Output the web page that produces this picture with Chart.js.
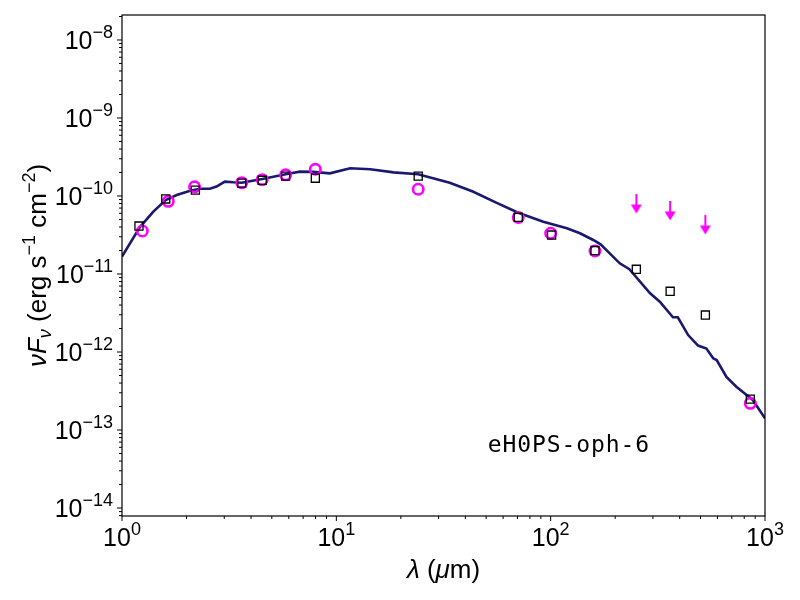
<!DOCTYPE html>
<html>
<head>
<meta charset="utf-8">
<script src="https://cdn.jsdelivr.net/npm/chart.js@4/dist/chart.umd.min.js"></script>
<style>html,body{margin:0;padding:0;background:#fff;overflow:hidden}canvas{display:block}</style>
</head>
<body>
<canvas id="c" width="800" height="600"></canvas>
<script>
// ---- data (wavelength in micron, nuFnu in erg s^-1 cm^-2) ----
const modelWave = [1.0, 1.21, 1.40, 1.60, 1.80, 2.08, 2.31, 2.57, 2.76, 3.02, 3.30, 3.62, 4.51, 5.80, 6.76, 7.82, 9.33, 11.6, 14.4, 18.5, 24.1, 33.8, 43.3, 55.7, 70.6, 92.4, 119, 137, 158, 171, 210, 233, 291, 323, 372, 392, 438, 487, 533, 573, 595, 661, 735, 877, 1000];
const modelFlux = [1.67e-11, 3.97e-11, 6.3e-11, 8.88e-11, 1.03e-10, 1.17e-10, 1.24e-10, 1.24e-10, 1.32e-10, 1.53e-10, 1.50e-10, 1.48e-10, 1.65e-10, 1.90e-10, 2.05e-10, 2.04e-10, 1.95e-10, 2.27e-10, 2.20e-10, 2.01e-10, 1.90e-10, 1.48e-10, 1.14e-10, 8.22e-11, 6.1e-11, 4.69e-11, 3.86e-11, 3.33e-11, 2.73e-11, 2.40e-11, 1.37e-11, 1.15e-11, 5.65e-12, 4.42e-12, 2.79e-12, 2.79e-12, 1.65e-12, 1.21e-12, 1.11e-12, 8.3e-13, 7.9e-13, 4.8e-13, 3.59e-13, 2.43e-13, 1.41e-13];

const sqWave = [1.20, 1.60, 2.20, 3.62, 4.51, 5.80, 7.98, 24.1, 70.6, 101, 161, 251, 361, 527, 854];
const sqFlux = [4.12e-11, 9.16e-11, 1.19e-10, 1.46e-10, 1.59e-10, 1.80e-10, 1.69e-10, 1.80e-10, 5.33e-11, 3.16e-11, 2.0e-11, 1.15e-11, 6.0e-12, 2.98e-12, 2.49e-13];

const circWave = [1.244, 1.644, 2.18, 3.62, 4.51, 5.80, 7.98, 24.1, 70.6, 100, 161, 854];
const circFlux = [3.56e-11, 8.55e-11, 1.31e-10, 1.48e-10, 1.62e-10, 1.87e-10, 2.20e-10, 1.22e-10, 5.3e-11, 3.33e-11, 1.97e-11, 2.2e-13];

const limWave = [251, 361, 527];
const limFlux = [1.06e-10, 8.63e-11, 5.7e-11];

const xTickExponents = [0, 1, 2, 3];
const yTickExponents = [-14, -13, -12, -11, -10, -9, -8];
const sourceName = 'eH0PS-oph-6';

// ---- helpers ----
const pts = (xs, ys) => xs.map((x, i) => ({x, y: ys[i]}));
const toSup = s => String(s).replace('-', '\u2212');

function makeArrow() {
  const c = document.createElement('canvas');
  c.width = 12; c.height = 40;
  const g = c.getContext('2d');
  g.fillStyle = '#ff00ff';
  g.fillRect(5, 20, 2, 12);
  g.beginPath();
  g.moveTo(0.5, 30.5); g.lineTo(11.5, 30.5); g.lineTo(6, 39.5); g.closePath();
  g.fill();
  return c;
}

const BASE = '"Liberation Sans", Arial, Helvetica, sans-serif';
function fontFor(p, size) {
  const s = p.sup || p.sub ? Math.round(size * 0.7) : size;
  return (p.it ? 'italic ' : '') + s + 'px ' + BASE;
}
function drawRich(ctx, parts, x, y, size, align) {
  let w = 0;
  parts.forEach(p => { ctx.font = fontFor(p, size); p.w = ctx.measureText(p.t).width; w += p.w; });
  let cx = align === 'center' ? x - w / 2 : align === 'right' ? x - w : x;
  parts.forEach(p => {
    ctx.font = fontFor(p, size);
    let dy = 0;
    if (p.sup) dy = -size * 0.43;
    if (p.sub) dy = size * 0.2;
    ctx.fillText(p.t, cx, y + dy);
    cx += p.w;
  });
}

const decor = {
  id: 'decor',
  afterDraw(chart) {
    const {ctx, chartArea: a, scales: {x, y}} = chart;
    ctx.save();
    ctx.fillStyle = '#000';
    ctx.strokeStyle = '#000';
    ctx.textBaseline = 'alphabetic';
    ctx.textAlign = 'left';
    // frame
    ctx.lineWidth = 1.2;
    ctx.strokeRect(a.left, a.top, a.right - a.left, a.bottom - a.top);
    // ticks
    ctx.lineWidth = 1;
    const tickSet = (scale, cb) => {
      const lo = Math.floor(Math.log10(scale.min)), hi = Math.ceil(Math.log10(scale.max));
      for (let e = lo; e <= hi; e++) for (let k = 1; k <= 9; k++) {
        const v = k * Math.pow(10, e);
        if (v < scale.min * 0.9999 || v > scale.max * 1.0001) continue;
        cb(scale.getPixelForValue(v), k === 1);
      }
    };
    ctx.beginPath();
    tickSet(x, (px, major) => { ctx.moveTo(px, a.bottom); ctx.lineTo(px, a.bottom + (major ? 5 : 3)); });
    tickSet(y, (py, major) => { ctx.moveTo(a.left, py); ctx.lineTo(a.left - (major ? 5 : 3), py); });
    ctx.stroke();
    // tick labels
    xTickExponents.forEach(e => {
      const px = x.getPixelForValue(Math.pow(10, e));
      drawRich(ctx, [{t: '10'}, {t: toSup(e), sup: true}], px, a.bottom + 30, 25, 'center');
    });
    yTickExponents.forEach(e => {
      const py = y.getPixelForValue(Math.pow(10, e));
      drawRich(ctx, [{t: '10'}, {t: toSup(e), sup: true}], a.left - 9, py + 9, 25, 'right');
    });
    // axis titles
    drawRich(ctx, [{t: '\u03bb', it: true}, {t: ' ('}, {t: '\u03bc', it: true}, {t: 'm)'}],
      (a.left + a.right) / 2, 578, 26, 'center');
    ctx.save();
    ctx.translate(46, (a.top + a.bottom) / 2);
    ctx.rotate(-Math.PI / 2);
    drawRich(ctx, [{t: '\u03bdF', it: true}, {t: '\u03bd', it: true, sub: true}, {t: ' (erg s'}, {t: '\u22121', sup: true},
      {t: ' cm'}, {t: '\u22122', sup: true}, {t: ')'}], 0, 0, 26, 'center');
    ctx.restore();
    // source label
    ctx.font = '23px "DejaVu Sans Mono", monospace';
    ctx.letterSpacing = '0.9px';
    ctx.fillText(sourceName, a.left + 0.569 * (a.right - a.left), a.bottom - 0.128 * (a.bottom - a.top));
    ctx.restore();
  }
};

new Chart(document.getElementById('c'), {
  type: 'scatter',
  data: {
    datasets: [
      {type: 'line', data: pts(modelWave, modelFlux), borderColor: '#191970', borderWidth: 2.6,
       pointRadius: 0, fill: false, tension: 0, order: 4},
      {data: pts(circWave, circFlux), pointStyle: 'circle', pointRadius: 5.2, borderWidth: 2.6,
       borderColor: '#ff00ff', backgroundColor: 'rgba(0,0,0,0)', order: 3},
      {data: pts(limWave, limFlux), pointStyle: makeArrow(), pointRadius: 6, order: 2},
      {data: pts(sqWave, sqFlux), pointStyle: 'rect', pointRadius: 5.7, borderWidth: 1.3,
       borderColor: '#000000', backgroundColor: 'rgba(0,0,0,0)', order: 1}
    ]
  },
  options: {
    responsive: false, animation: false, devicePixelRatio: 1,
    layout: {padding: {top: 15, right: 35, left: 0, bottom: 0}},
    plugins: {legend: {display: false}, tooltip: {enabled: false}},
    scales: {
      x: {type: 'logarithmic', min: 1, max: 1000,
          grid: {display: false}, border: {display: false}, ticks: {display: false},
          afterFit(s) { s.height = 84; }},
      y: {type: 'logarithmic', min: 7.9e-15, max: 2.09e-8,
          grid: {display: false}, border: {display: false}, ticks: {display: false},
          afterFit(s) { s.width = 122; }}
    }
  },
  plugins: [decor]
});
</script>
</body>
</html>
